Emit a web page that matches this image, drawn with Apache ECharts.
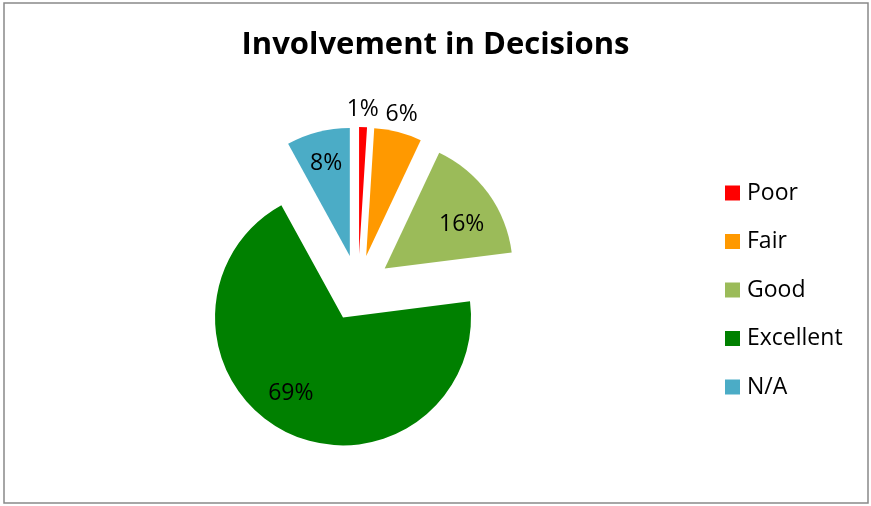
<!DOCTYPE html>
<html>
<head>
<meta charset="utf-8">
<script src="https://cdn.jsdelivr.net/npm/echarts@6/dist/echarts.min.js"></script>
<style>
html,body{margin:0;padding:0;background:#fff;}
#chart{width:871px;height:506px;}
</style>
</head>
<body>
<div id="chart"></div>
<script>
const titleText = 'Involvement in Decisions';
const categories = ['Poor', 'Fair', 'Good', 'Excellent', 'N/A'];
const values = [1, 6, 16, 69, 8];
const colors = ['#FF0000', '#FF9900', '#9BBB59', '#008000', '#4BACC6'];
const outerLabelCats = ['Poor', 'Fair'];

const FONT = '"Open Sans"';
const R = 128;
const CX = 358, CY = 288;
const OFFSET = 33;
// small label nudges (Excel "best fit" placement)
const labelNudge = { Poor: [-1, 5], Fair: [-2, 4], Good: [0, 12], Excellent: [-9, -9] };

const mainData = categories.map((c, i) => ({
  name: c, value: values[i], selected: true,
  itemStyle: { color: colors[i] }
}));
const innerLabelData = categories.map((c, i) => ({
  name: c, value: values[i], selected: true,
  label: { show: outerLabelCats.indexOf(c) < 0 }
}));
const outerLabelData = categories.map((c, i) => ({
  name: c, value: values[i], selected: true,
  label: { show: outerLabelCats.indexOf(c) >= 0 }
}));

const labelStyle = {
  position: 'inside',
  formatter: p => p.percent.toFixed(0) + '%',
  color: '#000',
  fontFamily: FONT,
  fontSize: 23
};

const ghost = (data, r) => ({
  type: 'pie',
  center: [CX, CY],
  radius: [0, r],
  startAngle: 90,
  clockwise: true,
  selectedMode: 'multiple',
  selectedOffset: OFFSET,
  silent: true,
  itemStyle: { color: 'rgba(0,0,0,0)' },
  label: labelStyle,
  labelLine: { show: false },
  labelLayout: p => {
    const n = labelNudge[categories[p.dataIndex]] || [0, 0];
    return { dx: n[0], dy: n[1] };
  },
  emphasis: { disabled: true },
  select: { itemStyle: { color: 'rgba(0,0,0,0)' } },
  data: data,
  z: 5
});

const chart = echarts.init(document.getElementById('chart'), null, { renderer: 'canvas' });
chart.setOption({
  animation: false,
  backgroundColor: '#fff',
  title: {
    text: titleText,
    left: 'center',
    top: 25,
    textStyle: { fontFamily: FONT, fontWeight: 'bold', fontSize: 31, color: '#000' }
  },
  legend: {
    orient: 'vertical',
    left: 720,
    top: 176,
    itemWidth: 15,
    itemHeight: 15,
    itemGap: 24.5,
    icon: 'rect',
    selectedMode: false,
    data: categories.map((c, i) => ({ name: c, itemStyle: { color: colors[i] } })),
    textStyle: { fontFamily: FONT, fontSize: 23, color: '#000', lineHeight: 24, padding: [0, 0, 0, 2] }
  },
  graphic: [{
    type: 'rect',
    shape: { x: 4, y: 3, width: 864, height: 500 },
    style: { fill: 'none', stroke: '#898989', lineWidth: 1.5 },
    silent: true
  }],
  series: [
    {
      type: 'pie',
      name: 'main',
      center: [CX, CY],
      radius: [0, R],
      startAngle: 90,
      clockwise: true,
      selectedMode: 'multiple',
      selectedOffset: OFFSET,
      silent: true,
      label: { show: false },
      labelLine: { show: false },
      emphasis: { disabled: true },
      data: mainData,
      z: 2
    },
    ghost(innerLabelData, R * 1.44),
    ghost(outerLabelData, R * 2.3)
  ]
});
</script>
</body>
</html>
